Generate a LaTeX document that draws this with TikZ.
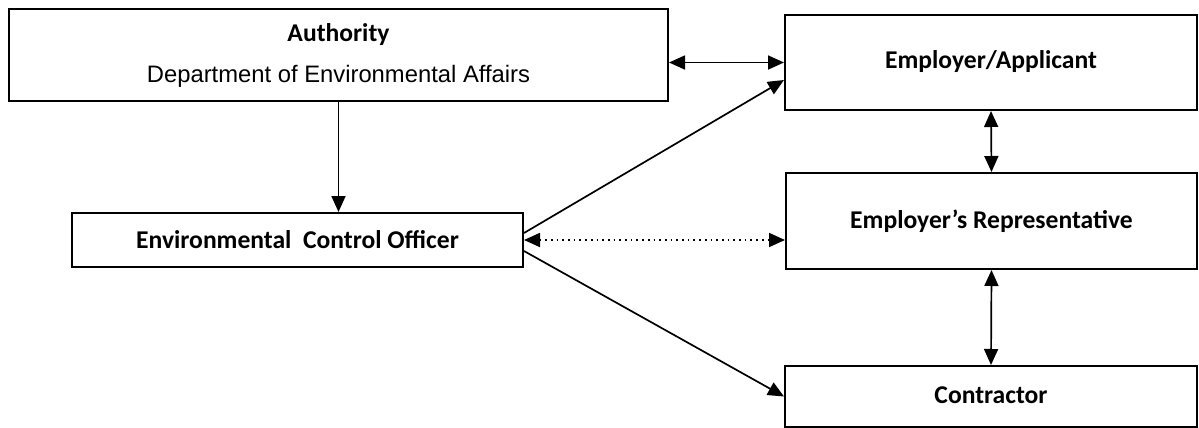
\documentclass[tikz,border=0pt]{standalone}
\usepackage{fontspec}
\setmainfont{Carlito}
\newfontfamily\deptfont{Liberation Sans}
\usepackage{tikz}
\usetikzlibrary{arrows.meta,positioning,calc}

\tikzset{
    box/.style={draw, line width=1pt, font=\bfseries\fontsize{12.8}{15}\selectfont, align=center, inner sep=0pt},
    link/.style={line width=0.85pt, >={Triangle[length=8pt,width=7pt]}}
}

\begin{document}
\begin{tikzpicture}[x=0.5pt, y=-0.5pt]
    \useasboundingbox (0,0) rectangle (1199,428);

    % Boxes
    \node[box, minimum width=329.5pt, minimum height=46pt] (auth) at (338.5,55)
        {Authority\\[5.5pt]{\deptfont\mdseries\fontsize{11.9}{13}\selectfont Department of Environmental Affairs}};
    \node[box, minimum width=206pt, minimum height=47.5pt] (emp) at (991,62.5) {\raisebox{2.5pt}{Employer/Applicant}};
    \node[box, minimum width=205.5pt, minimum height=48pt] (rep) at (991.5,221) {Employer’s Representative};
    \node[box, minimum width=206pt, minimum height=30.5pt] (con) at (991,396.5) {\raisebox{1.5pt}{Contractor}};
    \node[box, minimum width=225.5pt, minimum height=27pt] (eco) at (297.5,240) {Environmental~ Control Officer};

    % Authority lines
    \draw[link, ->] (auth.south) -- (auth.south |- eco.north);
    \draw[link, <->] (emp.west -| auth.east) -- (emp.west);

    % Officer lines
    \draw[link, ->] ($(eco.east)+(0,-7)$) -- ($(emp.west)+(0,17.5)$);
    \draw[link, <->, dotted] (eco.east) -- (eco.east -| rep.west);
    \draw[link, ->] ($(eco.east)+(0,11)$) -- (con.west);

    % Right column
    \draw[link, <->] (emp.south) -- (rep.north);
    \draw[link, <->] (rep.south) -- (con.north);
\end{tikzpicture}
\end{document}
